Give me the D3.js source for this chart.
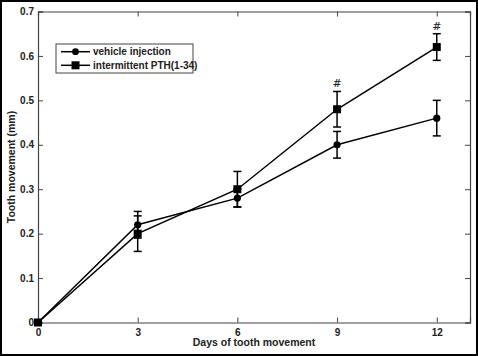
<!DOCTYPE html>
<html><head><meta charset="utf-8">
<script src="https://cdn.jsdelivr.net/npm/d3@7"></script>
<style>body{margin:0;background:#fff}svg{display:block}</style>
</head><body>
<svg id="c" width="478" height="356"></svg>
<script>
const days = [0, 3, 6, 9, 12];
const vehicle = [0, 0.22, 0.28, 0.40, 0.46];
const vehicleErr = [0, 0.03, 0.02, 0.03, 0.04];
const pth = [0, 0.20, 0.30, 0.48, 0.62];
const pthErr = [0, 0.04, 0.04, 0.04, 0.03];
const sigMarks = ["", "", "", "#", "#"];
const xTicks = [0, 3, 6, 9, 12];
const yTicks = [0, 0.1, 0.2, 0.3, 0.4, 0.5, 0.6, 0.7];
const seriesNames = ["vehicle injection", "intermittent PTH(1-34)"];

const svg = d3.select("#c");
const L = 38, R = 470, T = 11.5, B = 322.5;
const x = d3.scaleLinear().domain([0, 13]).range([L, R]);
const y = d3.scaleLinear().domain([0, 0.7]).range([B, T]);
const font = "'Liberation Sans', Arial, sans-serif";

// outer frame
svg.append("rect").attr("x",1).attr("y",1).attr("width",476).attr("height",354)
  .attr("fill","none").attr("stroke","#000").attr("stroke-width",2);

// axes with inward ticks
const tl = 5;
const gB = svg.append("g").attr("transform",`translate(0,${B})`)
  .call(d3.axisBottom(x).tickValues(xTicks).tickSize(-tl).tickPadding(4).tickFormat(d3.format("d")));
const gT = svg.append("g").attr("transform",`translate(0,${T})`)
  .call(d3.axisTop(x).tickValues(xTicks).tickSize(-tl).tickFormat(""));
const gLft = svg.append("g").attr("transform",`translate(${L},0)`)
  .call(d3.axisLeft(y).tickValues(yTicks).tickSize(-tl).tickPadding(4).tickFormat(d => d === 0 ? "0" : d3.format(".1f")(d)));
const gRt = svg.append("g").attr("transform",`translate(${R},0)`)
  .call(d3.axisRight(y).tickValues(yTicks).tickSize(-tl).tickFormat(""));
[gB, gT, gLft, gRt].forEach(g => {
  g.select(".domain").attr("stroke","#444").attr("stroke-width",1.2);
  g.selectAll(".tick line").attr("stroke","#444");
  g.selectAll("text").attr("font-family",font).attr("font-weight","bold").attr("font-size",10).attr("fill","#222");
});
gB.selectAll(".tick text").attr("dy","0.9em");

// axis labels
svg.append("text").attr("x",(L+R)/2).attr("y",346).attr("text-anchor","middle")
  .attr("font-family",font).attr("font-weight","bold").attr("font-size",10.5).attr("fill","#222")
  .text("Days of tooth movement");
svg.append("text").attr("transform",`translate(15,${(T+B)/2}) rotate(-90)`).attr("text-anchor","middle")
  .attr("font-family",font).attr("font-weight","bold").attr("font-size",10.5).attr("fill","#222")
  .text("Tooth movement (mm)");

const line = d3.line().x((d,i) => x(days[i])).y(d => y(d));
const series = [
  {vals: vehicle, err: vehicleErr, marker: "circle"},
  {vals: pth, err: pthErr, marker: "square"}
];
const capW = 4;
series.forEach(s => {
  svg.append("path").datum(s.vals).attr("d", line).attr("fill","none")
    .attr("stroke","#000").attr("stroke-width",1.5);
  const g = svg.append("g");
  s.vals.forEach((v,i) => {
    const e = s.err[i];
    if (e > 0) {
      const cx = x(days[i]);
      g.append("line").attr("x1",cx).attr("x2",cx).attr("y1",y(v-e)).attr("y2",y(v+e)).attr("stroke","#000").attr("stroke-width",1.5);
      [v-e, v+e].forEach(t => g.append("line").attr("x1",cx-capW).attr("x2",cx+capW).attr("y1",y(t)).attr("y2",y(t)).attr("stroke","#000").attr("stroke-width",1.5));
    }
  });
  s.vals.forEach((v,i) => {
    const cx = x(days[i]), cy = y(v);
    if (s.marker === "circle") g.append("circle").attr("cx",cx).attr("cy",cy).attr("r",3.6).attr("fill","#000");
    else g.append("rect").attr("x",cx-4).attr("y",cy-4).attr("width",8).attr("height",8).attr("fill","#000");
  });
});

// significance marks
sigMarks.forEach((m,i) => {
  if (!m) return;
  svg.append("text").attr("x",x(days[i])).attr("y",y(pth[i]+pthErr[i]) - 4).attr("text-anchor","middle")
    .attr("font-family","'DejaVu Serif', serif").attr("font-size",11).attr("fill","#222").text(m);
});

// legend
const lg = svg.append("g");
lg.append("rect").attr("x",56).attr("y",44).attr("width",137).attr("height",29)
  .attr("fill","#fff").attr("stroke","#444").attr("stroke-width",1);
seriesNames.forEach((n,i) => {
  const ly = 51.7 + i*13.6;
  lg.append("line").attr("x1",61).attr("x2",90).attr("y1",ly).attr("y2",ly).attr("stroke","#000").attr("stroke-width",1.5);
  if (series[i].marker === "circle") lg.append("circle").attr("cx",75.5).attr("cy",ly).attr("r",3.4).attr("fill","#000");
  else lg.append("rect").attr("x",71.5).attr("y",ly-4).attr("width",8).attr("height",8).attr("fill","#000");
  lg.append("text").attr("x",93).attr("y",ly).attr("dy","0.35em")
    .attr("font-family",font).attr("font-weight","bold").attr("font-size",10).attr("fill","#222").text(n);
});
</script>
</body></html>
